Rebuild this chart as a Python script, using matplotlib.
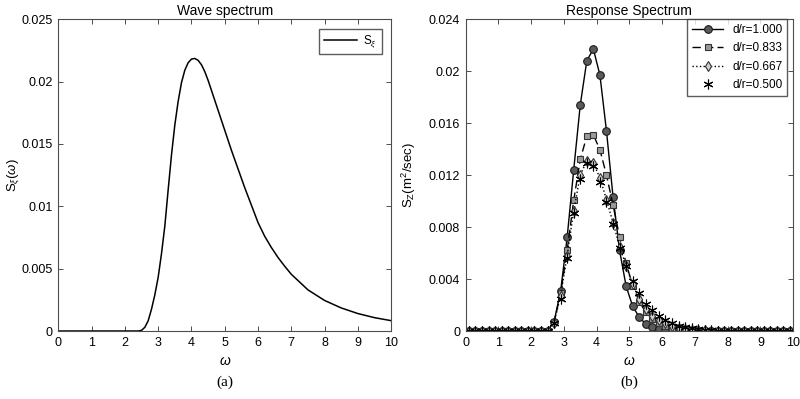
import matplotlib

matplotlib.use("Agg")
import matplotlib.pyplot as plt
from matplotlib.ticker import FuncFormatter

plt.rcParams["font.family"] = ["Liberation Sans", "DejaVu Sans"]
plt.rcParams["mathtext.fontset"] = "custom"
plt.rcParams["mathtext.rm"] = "Liberation Sans"
plt.rcParams["mathtext.it"] = "Liberation Sans:italic"

# (a) wave spectrum (x1e-3)
w_wave = [0, 2.3, 2.4, 2.5, 2.6, 2.7, 2.8, 2.9, 3.0, 3.1, 3.2, 3.3, 3.4, 3.5,
          3.6, 3.7, 3.8, 3.9, 4.0, 4.1, 4.2, 4.3, 4.4, 4.5, 4.6, 4.7, 4.8,
          4.9, 5.0, 5.2, 5.4, 5.6, 5.8, 6.0, 6.2, 6.4, 6.6, 6.8, 7.0, 7.5,
          8.0, 8.5, 9.0, 9.5, 10.0]
s_wave = [0, 0, 0.0, 0.05, 0.3, 0.82, 1.75, 2.9, 4.3, 6.2, 8.4, 11.3, 14.1,
          16.5, 18.4, 19.9, 20.9, 21.5, 21.8, 21.85, 21.7, 21.35, 20.8, 20.1,
          19.3, 18.5, 17.7, 16.9, 16.1, 14.5, 13.0, 11.5, 10.1, 8.7, 7.6,
          6.7, 5.9, 5.2, 4.55, 3.3, 2.45, 1.85, 1.4, 1.07, 0.83]

# (b) response spectrum, sampled at 0.1:0.2:9.9 (x1e-3)
w_resp = [round(0.1 + 0.2 * i, 1) for i in range(50)]
zeros12 = [0.0] * 12
s_100 = zeros12 + [0.02, 0.72, 3.05, 7.2, 12.4, 17.4, 20.8, 21.7, 19.7, 15.4,
                   10.35, 6.2, 3.45, 1.9, 1.07, 0.54, 0.28, 0.14, 0.06, 0.03,
                   0.01] + [0.0] * 17
s_083 = zeros12 + [0.02, 0.68, 2.9, 6.2, 10.05, 13.2, 15.0, 15.1, 13.95, 12.0,
                   9.7, 7.25, 5.2, 3.5, 2.26, 1.45, 0.95, 0.62, 0.38, 0.24,
                   0.14, 0.08, 0.05, 0.03, 0.01] + [0.0] * 13
s_067 = zeros12 + [0.02, 0.65, 2.7, 5.8, 9.25, 12.0, 13.1, 12.9, 11.8, 10.1,
                   8.35, 6.5, 5.0, 3.6, 2.5, 1.7, 1.15, 0.85, 0.58, 0.4, 0.27,
                   0.18, 0.11, 0.07, 0.04, 0.02, 0.01] + [0.0] * 11
s_050 = zeros12 + [0.02, 0.6, 2.5, 5.6, 9.1, 11.7, 12.9, 12.7, 11.5, 9.9, 8.2,
                   6.4, 5.0, 3.85, 2.9, 2.1, 1.6, 1.16, 0.85, 0.6, 0.42, 0.3,
                   0.2, 0.13, 0.08, 0.05, 0.03, 0.02, 0.01] + [0.0] * 9
labels = ["d/r=1.000", "d/r=0.833", "d/r=0.667", "d/r=0.500"]

fmt = FuncFormatter(lambda v, p: f"{v:g}")
AXC = "#4d4d4d"


def style(ax):
    ax.tick_params(direction="in", top=True, right=True, labelsize=9,
                   color=AXC, length=3.5, width=0.7, pad=4)
    for sp in ax.spines.values():
        sp.set_color(AXC)
        sp.set_linewidth(0.8)
    ax.set_xlim(0, 10)
    ax.set_xticks(range(11))
    ax.yaxis.set_major_formatter(fmt)


fig = plt.figure(figsize=(8, 3.99), dpi=100)
ax1 = fig.add_axes([0.0729, 0.1704, 0.416, 0.7816])
ax2 = fig.add_axes([0.582, 0.1704, 0.4095, 0.7816])

ax1.plot(w_wave, [v / 1000 for v in s_wave], color="k", lw=1.1, label=r"S$_\xi$")
style(ax1)
ax1.set_ylim(0, 0.025)
ax1.set_yticks([0, 0.005, 0.01, 0.015, 0.02, 0.025])
ax1.set_title("Wave spectrum", fontsize=10, pad=3)
ax1.set_xlabel(r"$\omega$", fontsize=10, labelpad=4)
ax1.set_ylabel(r"S$_\xi$($\omega$)", fontsize=9.5)
ax1.yaxis.set_label_coords(-0.112, 0.5)
ax1.legend(loc="upper right", fontsize=8.5, frameon=True, fancybox=False,
           edgecolor="#333333", handlelength=2.8, borderaxespad=0.8,
           handletextpad=0.5)
ax1.text(0.5, -0.165, "(a)", transform=ax1.transAxes, ha="center",
         va="center", fontsize=11, family="Liberation Serif")

series = [s_100, s_083, s_067, s_050]
styles = [
    dict(ls="-", marker="o", mfc="#5a5a5a", mec="#1a1a1a", ms=5.5),
    dict(ls=(0, (6, 3)), marker="s", mfc="#9a9a9a", mec="#333333", ms=5),
    dict(ls=":", marker="d", mfc="#d0d0d0", mec="#333333", ms=5.5),
    dict(ls="none", marker=(6, 2, 0), mfc="k", mec="k", ms=7),
]
for s, lb, st in zip(series, labels, styles):
    ax2.plot(w_resp, [v / 1000 for v in s], color="k", lw=1.0, label=lb,
             mew=0.8, **st)
style(ax2)
ax2.set_ylim(0, 0.024)
ax2.set_yticks([0, 0.004, 0.008, 0.012, 0.016, 0.02, 0.024])
ax2.set_title("Response Spectrum", fontsize=10, pad=3)
ax2.set_xlabel(r"$\omega$", fontsize=10, labelpad=4)
ax2.set_ylabel(r"S$_\mathrm{Z}$(m$^2$/sec)", fontsize=9.5)
ax2.yaxis.set_label_coords(-0.146, 0.5)
ax2.legend(loc="upper right", bbox_to_anchor=(0.982, 1.0), fontsize=8.5,
           frameon=True, fancybox=False, edgecolor="#333333",
           handlelength=2.6, borderaxespad=0.0, labelspacing=0.55)
ax2.text(0.5, -0.165, "(b)", transform=ax2.transAxes, ha="center",
         va="center", fontsize=11, family="Liberation Serif")

fig.savefig("out.png", dpi=100)
